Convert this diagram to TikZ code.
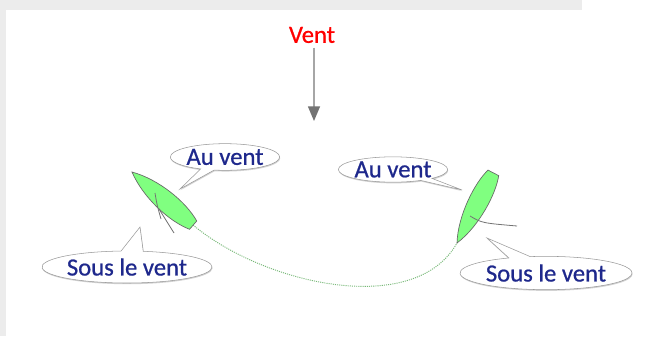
\documentclass[tikz,border=0pt]{standalone}
\usepackage{fontspec}
\setmainfont{Carlito}
\newfontfamily\policeBulle{Carlito}[FakeBold=0.7]
\usetikzlibrary{shapes.callouts,arrows.meta,shadows}
\definecolor{bleuTexte}{RGB}{30,40,140}
\definecolor{vertCoque}{RGB}{128,255,128}
\definecolor{vertSillage}{RGB}{120,185,120}
\definecolor{grisFond}{RGB}{236,236,236}

\begin{document}
\begin{tikzpicture}[x=0.75pt,y=-0.75pt,
    bulle/.style={ellipse callout, draw=black!40, fill=white, text=bleuTexte,
        inner sep=0pt, font=\policeBulle\fontsize{18.5}{20}\selectfont,
        drop shadow={shadow xshift=0.4pt, shadow yshift=-0.9pt, opacity=0.35}},
    coque/.style={draw=black!60, line width=0.5pt, fill=vertCoque},
    voile/.style={draw=black!55, line width=0.6pt},
    sillage/.style={draw=vertSillage, line width=0.7pt, dash pattern=on 0.8pt off 0.8pt}]
            % fond
            \useasboundingbox (0,0) rectangle (655,336);
            \fill[white] (0,0) rectangle (655,336);
            \fill[grisFond] (0,0) rectangle (582,10);
            \fill[grisFond] (0,0) rectangle (6,336);
            % vent
            \node[text=red, font=\policeBulle\fontsize{18.5}{20}\selectfont] (vent) at (312,35) {Vent};
            \coordinate (pointeFleche) at (314,121);
            \draw[draw=black!35, line width=1pt, -{Triangle[length=11pt,width=9pt,color=black!55]}]
            (pointeFleche |- vent.south) -- (pointeFleche);
            % sillage
            \coordinate (poupeG) at (193,225);
            \coordinate (proueD) at (457,243);
            \draw[sillage] (poupeG) .. controls (265,285) and (415,318) .. (proueD);
            % bateaux
            \draw[coque, shift={(132,172)}, rotate=-41] (0,0) .. controls (25,-12) and (60,-13) .. (81,-5.5)
            -- (81,5.5) .. controls (60,13) and (25,12) .. cycle;
            \draw[voile] (155,193) .. controls (157,205) .. (161,219);
            \draw[voile] (159,209) -- (174,233);
            \draw[coque, shift={(proueD)}, rotate=62.6] (0,0) .. controls (25,-12) and (62,-12) .. (79,-6)
            -- (79,6) .. controls (62,12) and (25,12) .. cycle;
            \draw[voile] (470,216) .. controls (482,223) .. (517,226);
            % bulles
            \node[bulle, minimum width=82pt, minimum height=20pt, callout absolute pointer={(180,189)}]
            (auVentG) at (225,157) {Au vent};
            \node[bulle, minimum width=127pt, minimum height=24pt, callout absolute pointer={(140,227)}]
            (sousVentG) at (127,267) {Sous le vent};
            \node[bulle, minimum width=82pt, minimum height=19pt, callout absolute pointer={(462,190)}]
            (auVentD) at (393,169.5) {Au vent};
            \node[bulle, minimum width=129pt, minimum height=25pt, callout absolute pointer={(487,238)}]
            (sousVentD) at (546,273) {Sous le vent};
\end{tikzpicture}
\end{document}
